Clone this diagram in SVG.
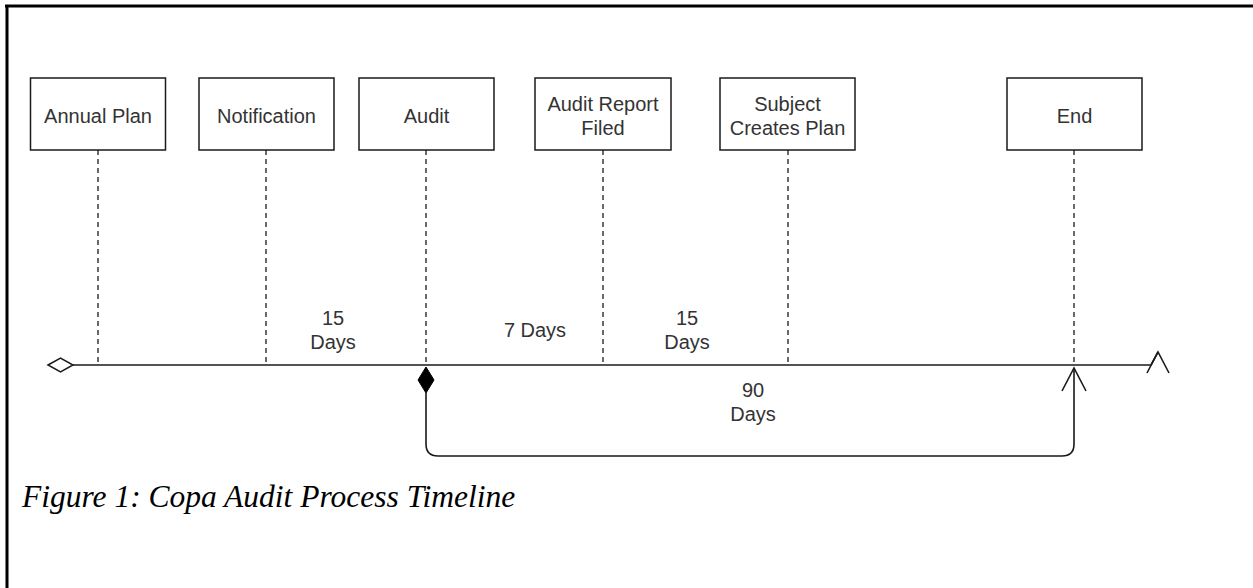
<svg xmlns="http://www.w3.org/2000/svg" width="1253" height="588" viewBox="0 0 1253 588">
<style>
.box{fill:#fff;stroke:#1a1a1a;stroke-width:1.5}
.lbl{font-family:"Liberation Sans",Arial,sans-serif;font-size:20px;fill:#333;text-anchor:middle}
.dash{stroke:#1a1a1a;stroke-width:1.3;stroke-dasharray:5 4;fill:none}
.ln{stroke:#1a1a1a;stroke-width:1.6;fill:none}
.cap{font-family:"Liberation Serif","Times New Roman",serif;font-style:italic;font-size:31.5px;fill:#000}
</style>
<rect width="1253" height="588" fill="#fff"/>
<g id="frame">
<line x1="5" y1="6" x2="1253" y2="6" stroke="#000" stroke-width="3"/>
<line x1="7" y1="5" x2="7" y2="588" stroke="#000" stroke-width="3"/>
</g>
<g id="connectors">
<line class="dash" x1="98" y1="150" x2="98" y2="365"/>
<line class="dash" x1="266" y1="150" x2="266" y2="365"/>
<line class="dash" x1="426" y1="150" x2="426" y2="365"/>
<line class="dash" x1="603" y1="150" x2="603" y2="365"/>
<line class="dash" x1="788" y1="150" x2="788" y2="365"/>
<line class="dash" x1="1074" y1="150" x2="1074" y2="365"/>
<line class="ln" x1="73" y1="365" x2="1151" y2="365"/>
<path d="M48,365 L60.5,358 L73,365 L60.5,372 Z" fill="#fff" stroke="#1a1a1a" stroke-width="1.5"/>
<polyline class="ln" points="1151,365 1158,352"/>
<polyline class="ln" points="1147,373 1158,352 1169,373"/>
<path d="M426,367 L434,380 L426,393 L418,380 Z" fill="#000" stroke="#000" stroke-width="1"/>
<path class="ln" d="M426,393 L426,444 Q426,456 438,456 L1062,456 Q1074,456 1074,444 L1074,368"/>
<polyline class="ln" points="1062,391 1074,368 1086,391"/>
</g>
<g id="annual-plan"><rect class="box" x="30.5" y="78" width="135" height="72"/><text class="lbl" x="98" y="123">Annual Plan</text></g>
<g id="notification"><rect class="box" x="199" y="78" width="135" height="72"/><text class="lbl" x="266.5" y="123">Notification</text></g>
<g id="audit"><rect class="box" x="359" y="78" width="135" height="72"/><text class="lbl" x="426.5" y="123">Audit</text></g>
<g id="audit-report-filed"><rect class="box" x="535" y="78" width="136" height="72"/><text class="lbl" x="603" y="111">Audit Report</text><text class="lbl" x="603" y="134.5">Filed</text></g>
<g id="subject-creates-plan"><rect class="box" x="720" y="78" width="135" height="72"/><text class="lbl" x="787.5" y="111">Subject</text><text class="lbl" x="787.5" y="135">Creates Plan</text></g>
<g id="end"><rect class="box" x="1007" y="78" width="135" height="72"/><text class="lbl" x="1074.5" y="123">End</text></g>
<g id="labels">
<text class="lbl" x="333" y="325">15</text><text class="lbl" x="333" y="349">Days</text>
<text class="lbl" x="535" y="337">7 Days</text>
<text class="lbl" x="687" y="325">15</text><text class="lbl" x="687" y="349">Days</text>
<text class="lbl" x="753" y="397">90</text><text class="lbl" x="753" y="421">Days</text>
</g>
<text class="cap" x="22" y="507">Figure 1: Copa Audit Process Timeline</text>
</svg>
